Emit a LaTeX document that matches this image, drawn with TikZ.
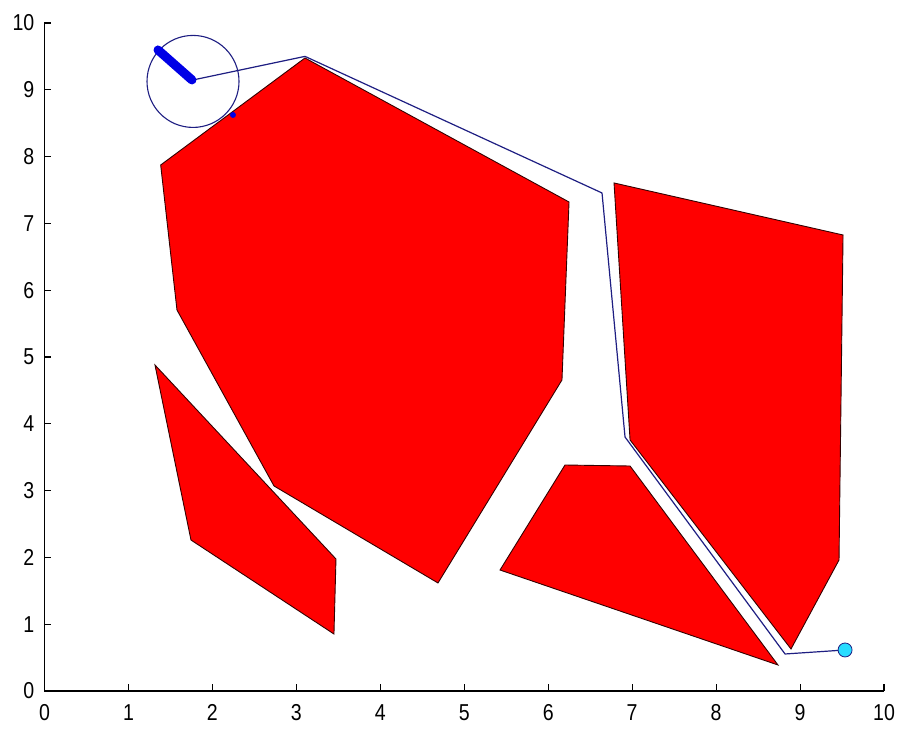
\documentclass[tikz,border=0pt]{standalone}
\usepackage{fontspec}
\setmainfont{Liberation Sans}
\definecolor{obst}{RGB}{255,0,0}
\definecolor{pathc}{RGB}{30,30,130}
\definecolor{robotc}{RGB}{0,0,230}
\definecolor{goalc}{RGB}{40,220,255}
\newcommand{\tlab}[1]{\scalebox{0.85}[1]{#1}}
\begin{document}
\begin{tikzpicture}[x=83.95pt,y=66.8pt,
  obstacle/.style={fill=obst,draw=black!80!red,line width=0.9pt,line join=miter},
  axisline/.style={black,line width=1.3pt},
  tickmark/.style={black,line width=1.1pt},
  ticklabel/.style={font=\fontsize{23}{23}\selectfont,inner sep=0pt},
  route/.style={pathc,line width=1.2pt,line join=round}]
\useasboundingbox (-0.530,-0.629) rectangle (10.381,10.344);
% obstacles
\draw[obstacle] (1.384,7.874) -- (3.103,9.476) -- (6.248,7.320) -- (6.164,4.656) -- (4.687,1.617) -- (2.734,3.069) -- (1.578,5.704) -- cycle;
\draw[obstacle] (1.316,4.880) -- (3.472,1.976) -- (3.448,0.853) -- (1.745,2.260) -- cycle;
\draw[obstacle] (6.200,3.383) -- (6.975,3.368) -- (8.737,0.389) -- (5.426,1.811) -- cycle;
\draw[obstacle] (6.784,7.605) -- (9.512,6.826) -- (9.464,1.961) -- (8.892,0.629) -- (6.975,3.757) -- cycle;
% path
\coordinate (p0) at (1.769,9.147);
\coordinate (p1) at (3.103,9.500);
\coordinate (p2) at (6.641,7.455);
\coordinate (p3) at (6.915,3.802);
\coordinate (p4) at (8.821,0.554);
\coordinate (goal) at (9.536,0.614);
\draw[route] (p0) -- (p1) -- (p2) -- (p3) -- (p4) -- (goal);
% robot
\coordinate (rc) at (1.769,9.125);
\draw[pathc,line width=1.1pt] (rc) circle[radius=46pt];
\coordinate (ra) at (1.352,9.596);
\coordinate (rb) at (1.757,9.147);
\draw[robotc,line width=9pt,line cap=round] (ra) -- (rb);
\node[fill=robotc,circle,inner sep=0pt,minimum size=6pt] (mark) at (2.245,8.623) {};
% goal
\node[fill=goalc,draw=pathc,circle,line width=0.8pt,inner sep=0pt,minimum size=14pt] (g) at (goal) {};
% axes
\coordinate (o) at (0,0);
\coordinate (xe) at (10,0);
\coordinate (ye) at (0,10);
\draw[axisline] (ye) -- (o) -- (xe);
\foreach \i in {0,...,10} {
  \draw[tickmark] (\i,0) -- ++(0,7pt);
  \draw[tickmark] (0,\i) -- ++(7pt,0);
  \node[ticklabel,anchor=north] (xl\i) at ([yshift=-13pt]\i,0) {\tlab{\i}};
  \node[ticklabel,anchor=east] (yl\i) at ([xshift=-10pt]0,\i) {\tlab{\i}};
}
\end{tikzpicture}
\end{document}
